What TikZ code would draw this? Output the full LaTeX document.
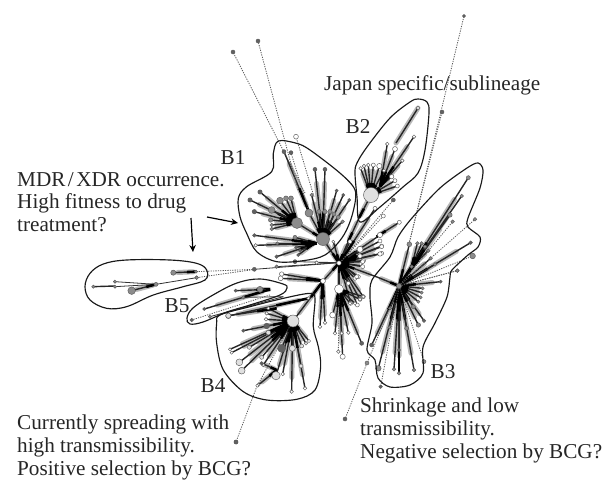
\documentclass[tikz,border=0pt]{standalone}
\usepackage{fontspec}
\setmainfont{Liberation Serif}
\usetikzlibrary{arrows.meta,calc}
\pgfdeclarelayer{haloL}\pgfdeclarelayer{dotL}\pgfdeclarelayer{blobL}
\pgfsetlayers{haloL,main,dotL,blobL}
\definecolor{cd}{gray}{.38}
\definecolor{cm}{gray}{.55}
\definecolor{cl}{gray}{.88}
\definecolor{cw}{gray}{1}
\definecolor{chalo}{gray}{.72}
\tikzset{
 halo/.style={draw=chalo,line width=5pt,line cap=round},
 stem/.style={draw=black!85,line width=1.4pt},
 core/.style={draw=black,line width=2.6pt},
 thin stem/.style={draw=black!80,line width=.8pt},
 dotline/.style={draw=black!65,line width=.8pt,dash pattern=on 1.2pt off 1.2pt},
 tip/.style={draw=black!65,line width=.45pt},
 blob/.style={draw=black!90,line width=1.15pt,line join=round},
 label/.style={inner sep=0pt,font=\fontsize{21.2}{22.8}\selectfont,text=black!85},
 para/.style={label,align=left,anchor=north west},
 callout/.style={draw=black,line width=1.2pt,-{Stealth[length=7pt,width=6.5pt]}},
 zoomed/.style args={#1/#2}{shift={(#1pt,-#2pt)},x=.3333pt,y=-.3333pt}
}
% fan of stems with halo: hub ; list of x/y/r/fill
\newcommand\fan[2]{\foreach \xx/\yy/\rr/\ff in {#2}{
  \begin{pgfonlayer}{haloL}\draw[halo] ($(#1)!.12!(\xx,\yy)$) -- ($(#1)!.8!(\xx,\yy)$);\end{pgfonlayer}
  \draw[stem] (#1) -- (\xx,\yy);
  \draw[core] (#1) -- ($(#1)!.4!(\xx,\yy)$);
  \begin{pgfonlayer}{dotL}\fill[fill=\ff,tip,draw] (\xx,\yy) circle (\rr pt);\end{pgfonlayer}}}
\newcommand\thinfan[2]{\foreach \xx/\yy/\rr/\ff in {#2}{
  \draw[thin stem] (#1) -- (\xx,\yy);
  \begin{pgfonlayer}{dotL}\fill[fill=\ff,tip,draw] (\xx,\yy) circle (\rr pt);\end{pgfonlayer}}}
\newcommand\dotfan[2]{\foreach \xx/\yy/\rr/\ff in {#2}{
  \draw[dotline] (#1) -- (\xx,\yy);
  \begin{pgfonlayer}{dotL}\fill[fill=\ff,tip,draw] (\xx,\yy) circle (\rr pt);\end{pgfonlayer}}}
\begin{document}
\begin{tikzpicture}[x=1pt,y=-1pt]
\begin{pgfonlayer}{haloL}\fill[white] (0,0) rectangle (603,480);\end{pgfonlayer}
\useasboundingbox (0,0) rectangle (603,480);
% hubs
\coordinate (R) at (339,263);
\coordinate (A) at (323,239);
\coordinate (Bh) at (297,223);
\coordinate (C) at (309,213);
\coordinate (H2) at (371,195);
\coordinate (J2) at (359,218);
\coordinate (K2) at (348,242);
\coordinate (H3) at (399,286);
\coordinate (J4) at (323,281);
\coordinate (H4) at (293,321);
\coordinate (S) at (339,289);
% backbone
\fan{R}{323/239/6.5/cm}
\fan{A}{297/223/5.5/cm}
\fan{A}{309/213/4/cm}
\fan{R}{377/277/.1/cw}
\fan{H3}{377/277/.1/cw}
\fan{R}{348/242/.1/cw}
\fan{K2}{359/218/.1/cw}
\fan{J2}{371/195/7.5/cl}
\fan{R}{323/281/2.5/cw}
\fan{J4}{293/321/6/cl}
\fan{R}{339/289/4.5/cw}
\begin{pgfonlayer}{dotL}
\fill[fill=cm,tip,draw] (H3) circle (2.6pt);
\fill[fill=white,tip,draw] (R) circle (2.2pt);
\end{pgfonlayer}
% B1 fans
\begin{scope}[zoomed=210/130]
\fan{260,278}{150/186/2.2/cd,120/210/2.2/cd,133/245/2.2/cd,185/240/3.4/cm,210/212/3.4/cm,228/205/2.4/cm,243/205/2.4/cm,182/270/2.2/cm,185/285/1.8/cm,185/297/1.8/cm}
\fan{338,328}{315/118/2/cd,345/118/2/cd,380/182/1.6/cd,400/195/1.6/cd,418/210/1.6/cd,327/245/2.2/cm,345/245/2.2/cm,360/245/2.2/cm,372/252/2/cm,385/262/2/cm,398/275/1.8/cm,305/195/1.8/cm}
\fan{320,340}{133/316/1.8/cd,137/346/1.8/cw,200/380/1.8/cd,202/340/1.6/cm,255/322/2/cm}
\fan{305,345}{265/375/1.6/cd,258/352/1.5/cd,270/362/1.5/cd}
\fan{298,248}{222/65/2/cd}
\dotfan{298,248}{243/68/2/cd}
\dotfan{312,200}{258/20/2.4/cw}
\thinfan{388,398}{320/398/1.5/cw,255/395/2/cd,133/418/2/cd,200/410/1.8/cm}
\end{scope}
\dotfan{305,193}{233/52/2/cd}
\dotfan{298,190}{258/41/2/cd}
% R fan
\begin{scope}[zoomed=300/240]
\fan{118,68}{245/18/2/cw,245/40/2/cw,240/3/2/cw,190/62/2.2/cw,186/78/1.8/cw,180/48/2.2/cw,180/28/3/cw,150/5/2/cw,100/5/1.5/cw,175/110/2/cw,190/170/2/cw,172/195/2/cw,152/190/2/cw,145/130/2/cw,165/115/2/cw,180/178/2/cw}
\thinfan{118,68}{50/68/1.8/cw}
\end{scope}
% right of R toward B2
\begin{scope}[zoomed=340/130]
\fan{0,398}{120/372/2.2/cw,125/350/2/cw,120/315/2.6/cw,60/358/3/cw,68/395/2/cw,68/410/2/cw,50/440/2/cw,105/235/2/cw}
\dotfan{0,398}{130/258/2/cw,160/210/2/cd}
\fan{110,320}{178/277/2/cw}
\fan{92,195}{62/115/1.8/cw,72/108/1.8/cw,85/105/1.8/cw,100/105/2/cw,118/108/2.6/cw,132/122/1.8/cw,155/140/2.2/cw,165/152/2/cw,172/168/2/cw}
\fan{120,170}{142/42/1.8/cw,165/57/2.5/cw,222/20/1.8/cw,187/92/1.8/cw}
\end{scope}
\draw[stem] (396,143) -- (418,108);
\begin{pgfonlayer}{haloL}\draw[halo] (396,143) -- (418,108);\end{pgfonlayer}
\begin{pgfonlayer}{dotL}\fill[fill=cw,tip,draw] (418,108) circle (1.8pt);\end{pgfonlayer}
% H3 fans
\begin{scope}[zoomed=340/130]
\fan{177,468}{208/343/2.4/cm,385/143/2/cm,392/338/1.8/cd,272/385/1.8/cm,285/403/1.8/cm}
\fan{215,410}{232/340/1.8/cm,245/340/1.8/cm,255/350/1.8/cm,265/362/1.8/cm}
\fan{177,468}{215/410/1.8/cm,330/255/2.2/cm,365/198/1.8/cm}
\dotfan{177,468}{338/275/1.8/cm,405/268/1.8/cm,398/378/2.8/cm,352/422/1.8/cm}
\end{scope}
\begin{scope}[zoomed=350/260]
\fan{148,78}{65/255/2/cd,85/325/2.8/cm,132/328/1.8/cm,147/340/1.8/cm,192/330/1.8/cm,205/195/2.2/cm,222/182/1.8/cd,205/125/1.6/cm,212/112/1.6/cm,215/98/1.6/cm,218/85/1.6/cm,190/140/2/cm,170/205/2/cm,272/65/1.6/cd,120/145/1.6/cm,118/202/1.6/cm,147/270/1.6/cd}
\dotfan{148,78}{92/380/1.8/cd,222/305/2/cm,322/32/1.8/cm}
\draw[line width=2.2pt,black] (147,270) -- (147,340);
\end{scope}
\dotfan{H3}{367/363/2/cm}
\dotfan{409,244}{464/16/1.6/cd,442/112/2/cd}
\dotfan{367,363}{345/419/2/cd}
% B4 side
\begin{scope}[zoomed=200/260]
\fan{368,62}{245/42/2.2/cw,242/55/2.4/cw,360/200/1.8/cw,375/188/1.8/cw}
\fan{418,88}{405/220/1.8/cw,425/220/1.8/cw,445/218/1.8/cw,398/165/3/cw,428/290/2.6/cw,450/130/1.8/cw,465/130/1.8/cw,480/118/1.8/cw,490/110/1.8/cw,485/250/2/cd}
\dotfan{418,88}{415/275/1.8/cw}
\fan{278,183}{205/145/1.6/cw,200/160/1.8/cw,198/178/1.8/cw,200/198/2.8/cd,205/218/2.4/cl,130/212/1.6/cd,90/268/1.6/cw,95/278/1.6/cw,148/262/2/cl,118/307/3.4/cl,125/332/3.4/cl,185/292/2/cl,190/315/1.8/cl,228/347/4.2/cl,245/265/4/cd,248/342/1.8/cw,275/395/1.8/cw,277/265/3/cl,303/318/2/cl,315/385/1.8/cw,305/258/2/cl,318/250/1.8/cl,327/243/1.6/cw}
\fan{230,330}{185/310/1.8/cd,175/375/1.8/cw}
\dotfan{278,183}{172/377/1.6/cw}
\fan{325,115}{85/168/2.6/cl}
\begin{pgfonlayer}{dotL}\fill[fill=cw,tip,draw] (325,115) circle (1.6pt);\end{pgfonlayer}
\end{scope}
\dotfan{257,386}{236/442/2/cd}
\begin{pgfonlayer}{dotL}\fill[fill=cd,tip,draw] (236,442) circle (2pt);\end{pgfonlayer}
% B5
\begin{scope}[zoomed=70/240]
\thinfan{258,133}{135/125/1.6/cm,135/140/1.6/cm,380/113/1.8/cm}
\fan{258,133}{185/152/3.8/cm}
\begin{pgfonlayer}{dotL}\fill[fill=cm,tip,draw] (258,133) circle (2pt);\end{pgfonlayer}
\draw[stem] (70,140) -- (135,138);
\begin{pgfonlayer}{dotL}\fill[fill=cm,tip,draw] (70,140) circle (1.6pt);\end{pgfonlayer}
\fan{378,95}{310/98/2.6/cm}
\begin{pgfonlayer}{dotL}\fill[fill=cm,tip,draw] (378,95) circle (1.5pt);\end{pgfonlayer}
\dotfan{555,88}{378/95/1.5/cm,380/113/1.8/cm}
\fan{600,148}{403/207/1.6/cd,497/152/1.6/cd,570/148/3/cm}
\thinfan{640,170}{420/230/1.6/cm,520/172/1.6/cm}
\fan{620,205}{475/227/2.6/cl}
\dotfan{600,165}{365/240/1.8/cd}
\end{scope}
% outlines
\begin{pgfonlayer}{blobL}
\begin{scope}[zoomed=210/130]
\draw[blob] plot[smooth cycle,tension=.55] coordinates {(205,33)(260,40)(300,60)(385,125)(430,170)(437,205)(422,270)(395,325)(345,375)(280,392)(200,395)(140,365)(110,310)(90,260)(85,205)(110,170)(185,125)(190,70)};
\end{scope}
\draw[blob] plot[smooth cycle,tension=.55] coordinates {(418,99)(427,102)(429,113)(425,150)(418,173)(403,187)(380,207)(360,222)(357,197)(355,173)(357,163)(367,147)(390,118)(410,102)};
\draw[blob] plot[smooth cycle,tension=.5] coordinates {(478,163)(483,170)(480,188)(468,218)(468,227)(480,237)(478,247)(468,255)(452,270)(450,277)(447,297)(435,323)(423,347)(423,373)(410,385)(390,387)(378,378)(375,360)(367,350)(372,323)(370,297)(372,280)(390,257)(398,237)(412,218)(440,188)(467,168)};
\begin{scope}[zoomed=70/240]
\draw[blob] plot[smooth cycle,tension=.6] coordinates {(45,140)(60,100)(100,72)(170,60)(300,60)(380,70)(410,90)(405,120)(340,140)(250,165)(170,200)(110,205)(60,180)};
\end{scope}
\draw[blob] plot[smooth cycle,tension=.6] coordinates {(187,318)(193,308)(213,295)(237,283)(260,279)(283,284)(287,288)(280,295)(250,305)(227,312)(203,322)(190,324)};
\begin{scope}[zoomed=200/260]
\draw[blob] plot[smooth cycle,tension=.55] coordinates {(60,165)(150,140)(250,115)(330,100)(345,115)(340,200)(355,260)(362,320)(345,390)(290,418)(200,420)(130,395)(70,330)(50,250)(50,190)};
\end{scope}
\end{pgfonlayer}
% text
\node[label,anchor=base west] (jp) at (324,90) {Japan specific/sublineage};
\node[label] (b1) at (233,158) {B1};
\node[label] (b2) at (358,127) {B2};
\node[label] (b3) at (443,372) {B3};
\node[label] (b4) at (213,386) {B4};
\node[label] (b5) at (177,306) {B5};
\node[para] (mdr) at (17,172) {MDR\kern2.5pt/\kern2.5pt XDR occurrence.\\High fitness to drug\\treatment?};
\node[para] (cur) at (17,414.5) {Currently spreading with\\high transmissibility.\\Positive selection by BCG?};
\node[para] (shr) at (360,397.5) {Shrinkage and low\\transmissibility.\\Negative selection by BCG?};
\coordinate (a1s) at (207,217);\coordinate (a1e) at (238,223);
\coordinate (a2s) at (191,218);\coordinate (a2e) at (193,252);
\draw[callout] (a1s) -- (a1e);
\draw[callout] (a2s) -- (a2e);
\end{tikzpicture}
\end{document}
